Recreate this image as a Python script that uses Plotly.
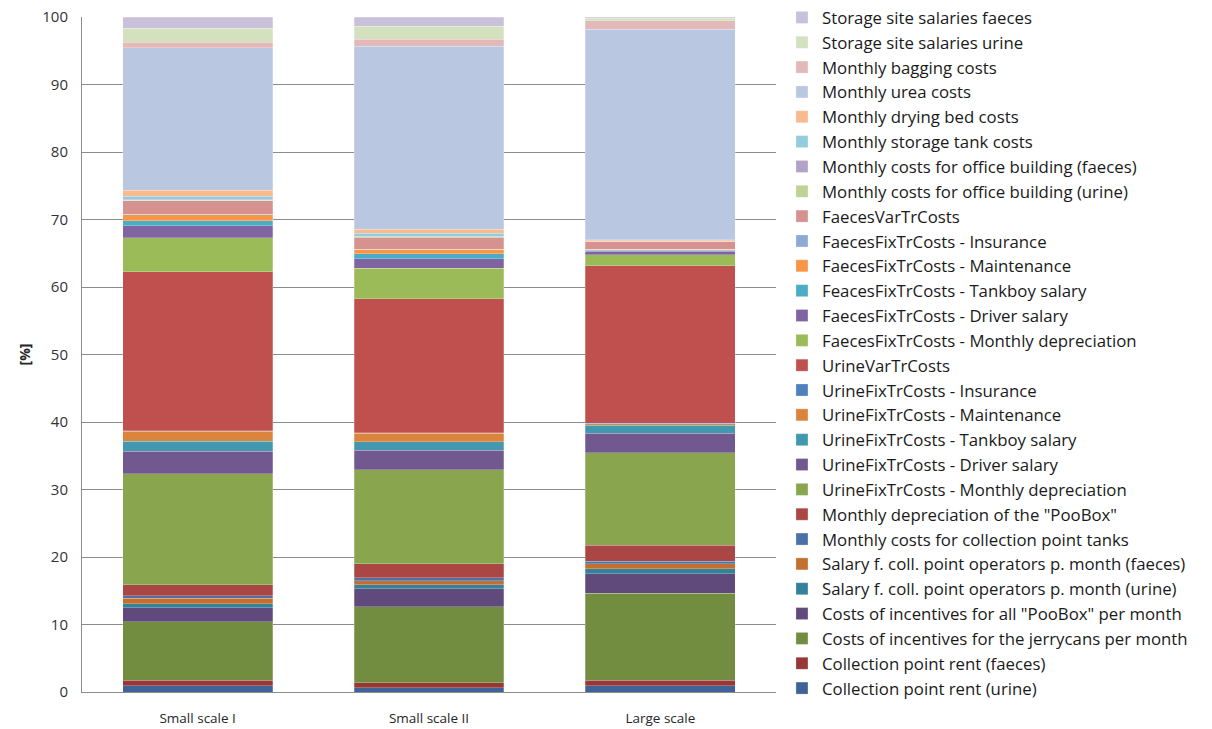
import plotly.graph_objects as go

categories = ["Small scale I", "Small scale II", "Large scale"]

# series in stacking order (bottom -> top)
series_names = [
    "Collection point rent (urine)",
    "Collection point rent (faeces)",
    "Costs of incentives for the jerrycans per month",
    "Costs of incentives for all \"PooBox\" per month",
    "Salary f. coll. point operators p. month (urine)",
    "Salary f. coll. point operators p. month (faeces)",
    "Monthly costs for collection point tanks",
    "Monthly depreciation of the \"PooBox\"",
    "UrineFixTrCosts - Monthly depreciation",
    "UrineFixTrCosts - Driver salary",
    "UrineFixTrCosts - Tankboy salary",
    "UrineFixTrCosts - Maintenance",
    "UrineFixTrCosts - Insurance",
    "UrineVarTrCosts",
    "FaecesFixTrCosts - Monthly depreciation",
    "FaecesFixTrCosts - Driver salary",
    "FeacesFixTrCosts - Tankboy salary",
    "FaecesFixTrCosts - Maintenance",
    "FaecesFixTrCosts - Insurance",
    "FaecesVarTrCosts",
    "Monthly costs for office building (urine)",
    "Monthly costs for office building (faeces)",
    "Monthly storage tank costs",
    "Monthly drying bed costs",
    "Monthly urea costs",
    "Monthly bagging costs",
    "Storage site salaries urine",
    "Storage site salaries faeces",
]

rent_urine = [0.94, 0.60, 0.94]
rent_faeces = [0.83, 0.75, 0.78]
incentives_jerrycans = [8.67, 11.29, 12.91]
incentives_poobox = [2.02, 2.67, 2.86]
salary_urine = [0.64, 0.59, 0.79]
salary_faeces = [0.79, 0.60, 0.73]
collection_tanks = [0.40, 0.44, 0.35]
poobox_depreciation = [1.62, 2.07, 2.36]
urine_depreciation = [16.45, 13.90, 13.71]
urine_driver = [3.32, 2.90, 2.88]
urine_tankboy = [1.49, 1.30, 1.19]
urine_maintenance = [1.43, 1.20, 0.25]
urine_insurance = [0.10, 0.10, 0.05]
urine_var = [23.53, 19.85, 23.33]
faeces_depreciation = [5.10, 4.49, 1.68]
faeces_driver = [1.73, 1.43, 0.50]
faeces_tankboy = [0.79, 0.74, 0.15]
faeces_maintenance = [0.84, 0.65, 0.10]
faeces_insurance = [0.10, 0.05, 0.05]
faeces_var = [1.97, 1.71, 1.15]
office_urine = [0.10, 0.10, 0.03]
office_faeces = [0.14, 0.10, 0.03]
storage_tank = [0.46, 0.40, 0.03]
drying_bed = [0.90, 0.64, 0.15]
urea = [21.09, 27.13, 31.22]
bagging = [0.79, 1.04, 1.24]
storage_salaries_urine = [2.08, 1.88, 0.34]
storage_salaries_faeces = [1.68, 1.38, 0.20]

series_values = [
    rent_urine, rent_faeces, incentives_jerrycans, incentives_poobox,
    salary_urine, salary_faeces, collection_tanks, poobox_depreciation,
    urine_depreciation, urine_driver, urine_tankboy, urine_maintenance,
    urine_insurance, urine_var, faeces_depreciation, faeces_driver,
    faeces_tankboy, faeces_maintenance, faeces_insurance, faeces_var,
    office_urine, office_faeces, storage_tank, drying_bed, urea, bagging,
    storage_salaries_urine, storage_salaries_faeces,
]

series_colors = [
    "#3F6398", "#953836", "#738D40", "#5F4A7B", "#35809A", "#C26F2F",
    "#4A72A8", "#AA4644", "#89A54E", "#71588F", "#4198AF", "#DB843D",
    "#4F81BD", "#C0504D", "#9BBB59", "#8064A2", "#4BACC6", "#F79646",
    "#8DA9D6", "#D59291", "#BED394", "#B3A2C7", "#93CDDD", "#F9BA8E",
    "#BAC7E0", "#E3B8B8", "#D3E1BE", "#C9C0D9",
]

y_ticks = list(range(0, 101, 10))

fig = go.Figure()
for i, (name, vals, col) in enumerate(zip(series_names, series_values, series_colors)):
    fig.add_trace(go.Bar(
        x=categories, y=vals, name=name,
        legendrank=1000 - i,
        marker=dict(color=col, line=dict(color="rgba(255,255,255,0.35)", width=0.7)),
    ))

fig.update_layout(
    width=1212, height=729,
    barmode="stack", bargap=0.352,
    paper_bgcolor="white", plot_bgcolor="white",
    margin=dict(l=82, r=436, t=17, b=37, autoexpand=False),
    font=dict(family="Open Sans, sans-serif", color="#262626"),
    showlegend=True,
    legend=dict(
        x=1.0086, xanchor="left", y=1.0252, yanchor="top",
        traceorder="normal",
        font=dict(size=16.8, color="#1a1a1a", family="Open Sans, sans-serif"),
        itemwidth=30, bgcolor="rgba(0,0,0,0)", maxheight=729,
    ),
    yaxis=dict(
        range=[0, 100], tickvals=y_ticks, ticktext=[str(v) for v in y_ticks],
        showgrid=True, gridcolor="#8c8c8c", gridwidth=1,
        showline=True, linecolor="#8c8c8c", linewidth=1,
        ticks="", ticklabelstandoff=10, automargin=False,
        tickfont=dict(size=15, color="#333333"),
        title=dict(text="<b>[%]</b>", font=dict(size=14, color="#262626"), standoff=8),
        zeroline=False,
    ),
    xaxis=dict(
        showline=True, linecolor="#8c8c8c", linewidth=1,
        ticks="", ticklabelstandoff=14, automargin=False,
        tickfont=dict(size=13.5, color="#262626"),
        range=[-0.5, 2.5],
    ),
)

fig.write_html(
    "out.html",
    config={"displayModeBar": False},
    post_script="document.body.style.margin='0px';document.body.style.overflow='hidden';",
)
